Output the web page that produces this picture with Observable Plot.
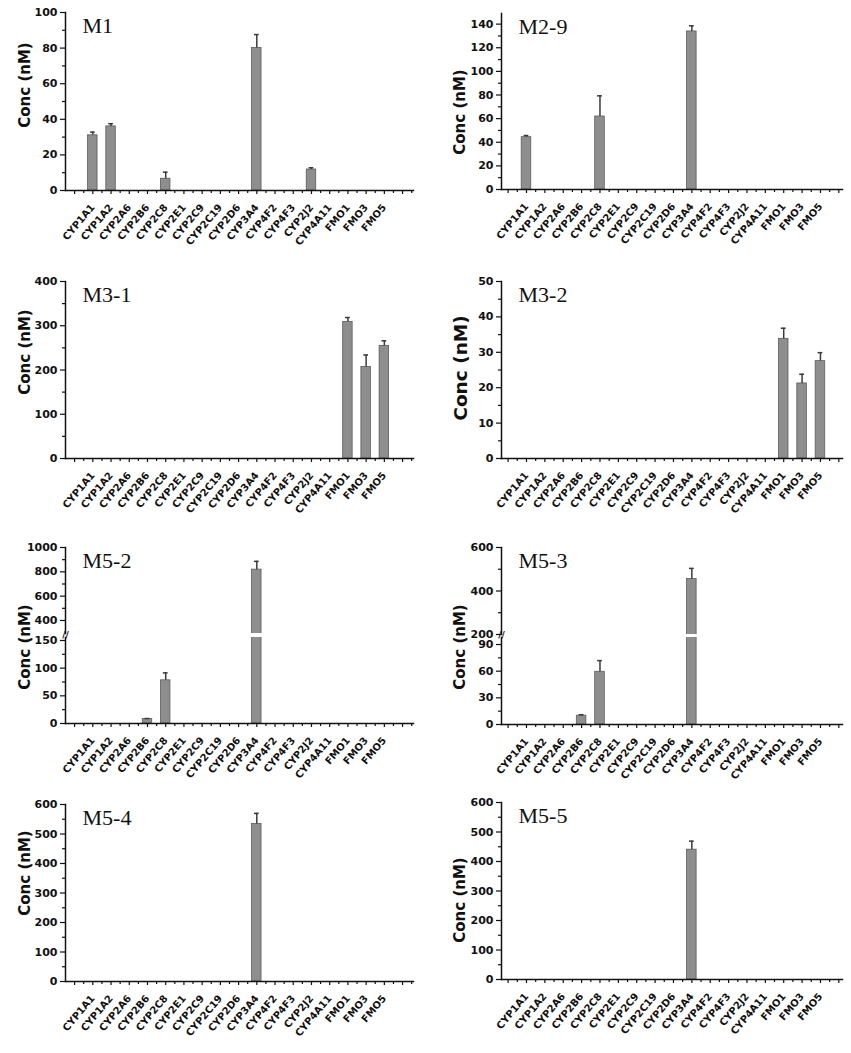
<!DOCTYPE html>
<html><head><meta charset="utf-8">
<script src="https://cdn.jsdelivr.net/npm/d3@7"></script>
<script src="https://cdn.jsdelivr.net/npm/@observablehq/plot@0.6"></script>
<style>
body{margin:0;background:#fff;}
#root{position:relative;width:851px;height:1053px;overflow:hidden;background:#fff;}
.part{position:absolute;}
.ylab{position:absolute;font-family:"DejaVu Sans",sans-serif;font-weight:bold;color:#111;white-space:nowrap;transform:translate(-50%,-50%) rotate(-90deg);}
</style></head><body><div id="root"></div>
<script>
const categories = ["CYP1A1","CYP1A2","CYP2A6","CYP2B6","CYP2C8","CYP2E1","CYP2C9","CYP2C19","CYP2D6","CYP3A4","CYP4F2","CYP4F3","CYP2J2","CYP4A11","FMO1","FMO3","FMO5"];

const m1Values  = [31.0, 36.0, 0, 0, 6.6, 0, 0, 0, 0, 80.1, 0, 0, 11.8, 0, 0, 0, 0];
const m1Errors  = [1.8, 1.5, 0, 0, 3.7, 0, 0, 0, 0, 7.5, 0, 0, 1.0, 0, 0, 0, 0];
const m29Values = [44.3, 0, 0, 0, 61.8, 0, 0, 0, 0, 133.8, 0, 0, 0, 0, 0, 0, 0];
const m29Errors = [1.4, 0, 0, 0, 17.5, 0, 0, 0, 0, 4.8, 0, 0, 0, 0, 0, 0, 0];
const m31Values = [0, 0, 0, 0, 0, 0, 0, 0, 0, 0, 0, 0, 0, 0, 308.8, 207.0, 254.6];
const m31Errors = [0, 0, 0, 0, 0, 0, 0, 0, 0, 0, 0, 0, 0, 0, 9.8, 27.0, 11.4];
const m32Values = [0, 0, 0, 0, 0, 0, 0, 0, 0, 0, 0, 0, 0, 0, 33.8, 21.2, 27.5];
const m32Errors = [0, 0, 0, 0, 0, 0, 0, 0, 0, 0, 0, 0, 0, 0, 3.0, 2.6, 2.4];
const m52Values = [0, 0, 0, 8.0, 78.0, 0, 0, 0, 0, 818, 0, 0, 0, 0, 0, 0, 0];
const m52Errors = [0, 0, 0, 1.0, 13.5, 0, 0, 0, 0, 68, 0, 0, 0, 0, 0, 0, 0];
const m53Values = [0, 0, 0, 9.9, 59.3, 0, 0, 0, 0, 455, 0, 0, 0, 0, 0, 0, 0];
const m53Errors = [0, 0, 0, 1.1, 12.6, 0, 0, 0, 0, 49, 0, 0, 0, 0, 0, 0, 0];
const m54Values = [0, 0, 0, 0, 0, 0, 0, 0, 0, 534, 0, 0, 0, 0, 0, 0, 0];
const m54Errors = [0, 0, 0, 0, 0, 0, 0, 0, 0, 36, 0, 0, 0, 0, 0, 0, 0];
const m55Values = [0, 0, 0, 0, 0, 0, 0, 0, 0, 440, 0, 0, 0, 0, 0, 0, 0];
const m55Errors = [0, 0, 0, 0, 0, 0, 0, 0, 0, 29, 0, 0, 0, 0, 0, 0, 0];

const yLabel = "Conc (nM)";

const COLS = {
  left:  {left: 0,   width: 425, marginLeft: 65, marginRight: 12, xDomain: [-1.5, 17.6], ylabX: 25},
  right: {left: 425, width: 426, marginLeft: 76, marginRight: 9,  xDomain: [-1.36, 17.2], ylabX: 460}
};

const root = document.getElementById("root");

function rowsOf(vals, errs) {
  return categories.map((c, i) => ({c, i, v: vals[i], e: errs[i]}));
}

function drawPart({col, frameTop, frameBottom, yDomain, yTicks, yMinor, rows, showX, title, breakMark}) {
  const C = COLS[col];
  const marginTop = 14;
  const marginBottom = showX ? 80 : 0;
  const height = frameBottom - frameTop + marginTop + marginBottom;
  const inY = t => t >= yDomain[0] - 1e-9 && t <= yDomain[1] + 1e-9;
  const inX = t => t >= C.xDomain[0] && t <= C.xDomain[1];
  const bars = rows.filter(d => d.v > 0);
  const errs = bars.filter(d => d.e > 0);
  const marks = [
    Plot.rectY(bars, {x1: d => d.i - 0.26, x2: d => d.i + 0.26, y1: () => 0, y2: "v",
      fill: "#8e8e8e", stroke: "#5c5c5c", strokeWidth: 0.8, clip: true}),
    Plot.ruleX(errs, {x: "i", y1: "v", y2: d => d.v + d.e, stroke: "#3a3a3a", strokeWidth: 1.5, clip: true}),
    Plot.ruleY(errs, {y: d => d.v + d.e, x1: d => d.i - 0.13, x2: d => d.i + 0.13, stroke: "#3a3a3a", strokeWidth: 1.5, clip: true}),
    Plot.axisY(yTicks.filter(inY), {tickSize: 5, tickPadding: 3, fontSize: 11, fontWeight: "bold", label: null, strokeWidth: 1.2, tickFormat: d3.format("d")}),
    Plot.axisY(yMinor.filter(inY), {tickSize: 3, tickFormat: () => "", label: null, strokeWidth: 1.2}),
    Plot.frame({anchor: "left", stroke: "#111", strokeWidth: 1.5})
  ];
  if (showX) {
    const majors = d3.range(-1, 18.01, 1).filter(inX);
    const minors = d3.range(-0.5, 18.01, 1).filter(inX);
    marks.push(
      Plot.frame({anchor: "bottom", stroke: "#111", strokeWidth: 1.5}),
      Plot.axisX(majors, {tickSize: 4, tickFormat: () => "", label: null, strokeWidth: 1.2}),
      Plot.axisX(minors, {tickSize: 3, tickFormat: () => "", label: null, strokeWidth: 1.2}),
      Plot.axisX(rows.map(d => d.i), {tickSize: 0, tickPadding: 15, tickRotate: -50, tickFormat: i => categories[i],
        label: null, fontSize: 10, fontWeight: "bold"})
    );
  }
  if (title) {
    marks.push(Plot.text([title], {text: d => d, frameAnchor: "top-left", dx: 17, dy: 20, textAnchor: "start", lineAnchor: "bottom",
      fontFamily: "Liberation Serif", fontSize: 22, fill: "#111"}));
  }
  if (breakMark) {
    marks.push(Plot.text(["//"], {text: d => d, frameAnchor: "top-left", dy: -2, textAnchor: "middle", lineAnchor: "middle",
      fontSize: 9, fontWeight: "bold", fill: "#111"}));
  }
  const svg = Plot.plot({
    width: C.width, height, marginLeft: C.marginLeft, marginRight: C.marginRight, marginTop, marginBottom,
    x: {type: "linear", domain: C.xDomain, label: null, axis: null},
    y: {type: "linear", domain: yDomain, label: null},
    style: {fontFamily: "DejaVu Sans", background: "transparent", color: "#111", overflow: "visible"},
    marks
  });
  const div = document.createElement("div");
  div.className = "part";
  div.style.left = C.left + "px";
  div.style.top = (frameTop - marginTop) + "px";
  div.appendChild(svg);
  root.appendChild(div);
}

function yLab(col, cy, size) {
  const d = document.createElement("div");
  d.className = "ylab";
  d.textContent = yLabel;
  d.style.left = COLS[col].ylabX + "px";
  d.style.top = cy + "px";
  d.style.fontSize = size + "px";
  root.appendChild(d);
}

// Row 1
drawPart({col: "left", frameTop: 12, frameBottom: 190, yDomain: [0, 100], yTicks: d3.range(0, 101, 20), yMinor: d3.range(10, 100, 20),
  rows: rowsOf(m1Values, m1Errors), showX: true, title: "M1"});
yLab("left", 85, 15);
drawPart({col: "right", frameTop: 13, frameBottom: 189, yDomain: [0, 149], yTicks: d3.range(0, 141, 20), yMinor: d3.range(10, 150, 20),
  rows: rowsOf(m29Values, m29Errors), showX: true, title: "M2-9"});
yLab("right", 112, 15);

// Row 2
drawPart({col: "left", frameTop: 281, frameBottom: 458, yDomain: [0, 400], yTicks: d3.range(0, 401, 100), yMinor: d3.range(50, 400, 100),
  rows: rowsOf(m31Values, m31Errors), showX: true, title: "M3-1"});
yLab("left", 352, 15);
drawPart({col: "right", frameTop: 281, frameBottom: 458, yDomain: [0, 50], yTicks: d3.range(0, 51, 10), yMinor: d3.range(5, 50, 10),
  rows: rowsOf(m32Values, m32Errors), showX: true, title: "M3-2"});
yLab("right", 368, 18.5);

// Row 3 (broken axes)
drawPart({col: "left", frameTop: 547, frameBottom: 633, yDomain: [293, 1000], yTicks: d3.range(400, 1001, 200), yMinor: d3.range(500, 1000, 200),
  rows: rowsOf(m52Values, m52Errors), showX: false, title: "M5-2"});
drawPart({col: "left", frameTop: 637, frameBottom: 723, yDomain: [0, 155.4], yTicks: d3.range(0, 151, 50), yMinor: d3.range(25, 155, 50),
  rows: rowsOf(m52Values, m52Errors), showX: true, breakMark: true});
yLab("left", 647, 15);
drawPart({col: "right", frameTop: 547, frameBottom: 634, yDomain: [200, 600], yTicks: d3.range(200, 601, 200), yMinor: d3.range(300, 600, 200),
  rows: rowsOf(m53Values, m53Errors), showX: false, title: "M5-3"});
drawPart({col: "right", frameTop: 637, frameBottom: 724, yDomain: [0, 97.9], yTicks: d3.range(0, 91, 30), yMinor: d3.range(15, 97, 30),
  rows: rowsOf(m53Values, m53Errors), showX: true, breakMark: true});
yLab("right", 647, 15);

// Row 4
drawPart({col: "left", frameTop: 804, frameBottom: 981, yDomain: [0, 600], yTicks: d3.range(0, 601, 100), yMinor: d3.range(50, 600, 100),
  rows: rowsOf(m54Values, m54Errors), showX: true, title: "M5-4"});
yLab("left", 873, 15);
drawPart({col: "right", frameTop: 802, frameBottom: 979, yDomain: [0, 600], yTicks: d3.range(0, 601, 100), yMinor: d3.range(50, 600, 100),
  rows: rowsOf(m55Values, m55Errors), showX: true, title: "M5-5"});
yLab("right", 900, 15);
</script>
</body></html>
